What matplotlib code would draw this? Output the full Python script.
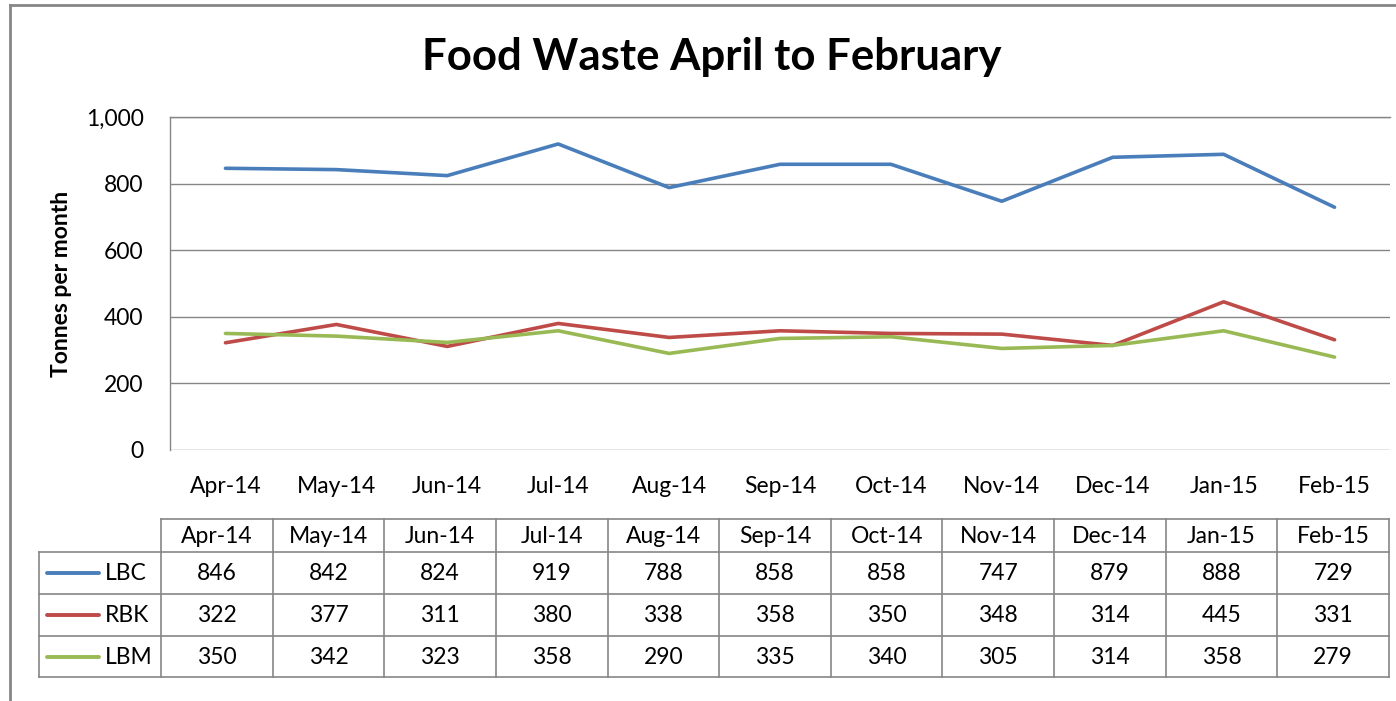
import matplotlib
matplotlib.use("Agg")
import matplotlib.pyplot as plt
from matplotlib.lines import Line2D

months = ["Apr-14", "May-14", "Jun-14", "Jul-14", "Aug-14", "Sep-14",
          "Oct-14", "Nov-14", "Dec-14", "Jan-15", "Feb-15"]
series_names = ["LBC", "RBK", "LBM"]
lbc = [846, 842, 824, 919, 788, 858, 858, 747, 879, 888, 729]
rbk = [322, 377, 311, 380, 338, 358, 350, 348, 314, 445, 331]
lbm = [350, 342, 323, 358, 290, 335, 340, 305, 314, 358, 279]
colors = ["#4A7EBB", "#BE4B48", "#98B954"]
yticks = [0, 200, 400, 600, 800, 1000]

FONT = ["Lato", "DejaVu Sans"]
plt.rcParams["font.family"] = FONT
FS = 16.5

W, H = 1396, 701
fig = plt.figure(figsize=(W / 100, H / 100), dpi=100)

# main plot axes
L, R, T, B = 170, 1390, 117, 450
ax = fig.add_axes([L / W, 1 - B / H, (R - L) / W, (B - T) / H])
x = list(range(len(months)))
for vals, c, name in zip([lbc, rbk, lbm], colors, series_names):
    ax.plot(x, vals, color=c, lw=2.6, solid_capstyle="round", label=name, zorder=3)
ax.set_xlim(-0.5, len(months) - 0.5)
ax.set_ylim(0, 1000)
ax.set_yticks(yticks)
ax.set_yticklabels([f"{v:,}" for v in yticks])
ax.set_xticks(x)
ax.set_xticklabels(months)
ax.tick_params(axis="both", length=0, labelsize=FS, colors="black")
ax.tick_params(axis="y", pad=19)
ax.tick_params(axis="x", pad=19)
ax.grid(axis="y", color="#868686", lw=1)
ax.set_axisbelow(True)
for s in ["right", "bottom"]:
    ax.spines[s].set_visible(False)
for s in ["left", "top"]:
    ax.spines[s].set_color("#868686")
    ax.spines[s].set_linewidth(1)

fig.text(62 / W, 1 - 284 / H, "Tonnes per month", rotation=90, ha="center", va="center",
         fontsize=16.5, fontweight="bold")

fig.text(712 / W, 1 - 57 / H, "Food Waste April to February", ha="center", va="center",
         fontsize=31.5, fontweight="bold")

# overlay axes in pixel coordinates for border and data table
ov = fig.add_axes([0, 0, 1, 1], zorder=5)
ov.set_xlim(0, W)
ov.set_ylim(H, 0)
ov.axis("off")
ov.patch.set_alpha(0)

# outer chart border (left and top visible)
ov.add_line(Line2D([10, 10], [5, H + 5], color="#868686", lw=2))
ov.add_line(Line2D([10, W + 5], [5, 5], color="#868686", lw=2))

# data table
tL, tR = 161, 1389
lab_L = 39
rows_y = [519, 552, 594, 636, 677]
n = len(months)
cw = (tR - tL) / n
gc = "#868686"
ov.add_line(Line2D([tL, tR], [rows_y[0], rows_y[0]], color=gc, lw=1.2))
for yy in rows_y[1:]:
    ov.add_line(Line2D([lab_L, tR], [yy, yy], color=gc, lw=1.2))
ov.add_line(Line2D([lab_L, lab_L], [rows_y[1], rows_y[-1]], color=gc, lw=1.2))
for i in range(n + 1):
    xx = tL + i * cw
    ov.add_line(Line2D([xx, xx], [rows_y[0], rows_y[-1]], color=gc, lw=1.2))
for i, m in enumerate(months):
    ov.text(tL + (i + 0.5) * cw, (rows_y[0] + rows_y[1]) / 2 + 1, m,
            ha="center", va="center", fontsize=FS)
for r, (name, vals, c) in enumerate(zip(series_names, [lbc, rbk, lbm], colors)):
    yc = (rows_y[r + 1] + rows_y[r + 2]) / 2 + 1
    ov.add_line(Line2D([47, 99], [yc - 1, yc - 1], color=c, lw=2.8, solid_capstyle="round"))
    ov.text(105, yc, name, ha="left", va="center", fontsize=FS)
    for i, v in enumerate(vals):
        ov.text(tL + (i + 0.5) * cw, yc, str(v), ha="center", va="center", fontsize=FS)

fig.savefig("out.png", dpi=100, facecolor="white")
